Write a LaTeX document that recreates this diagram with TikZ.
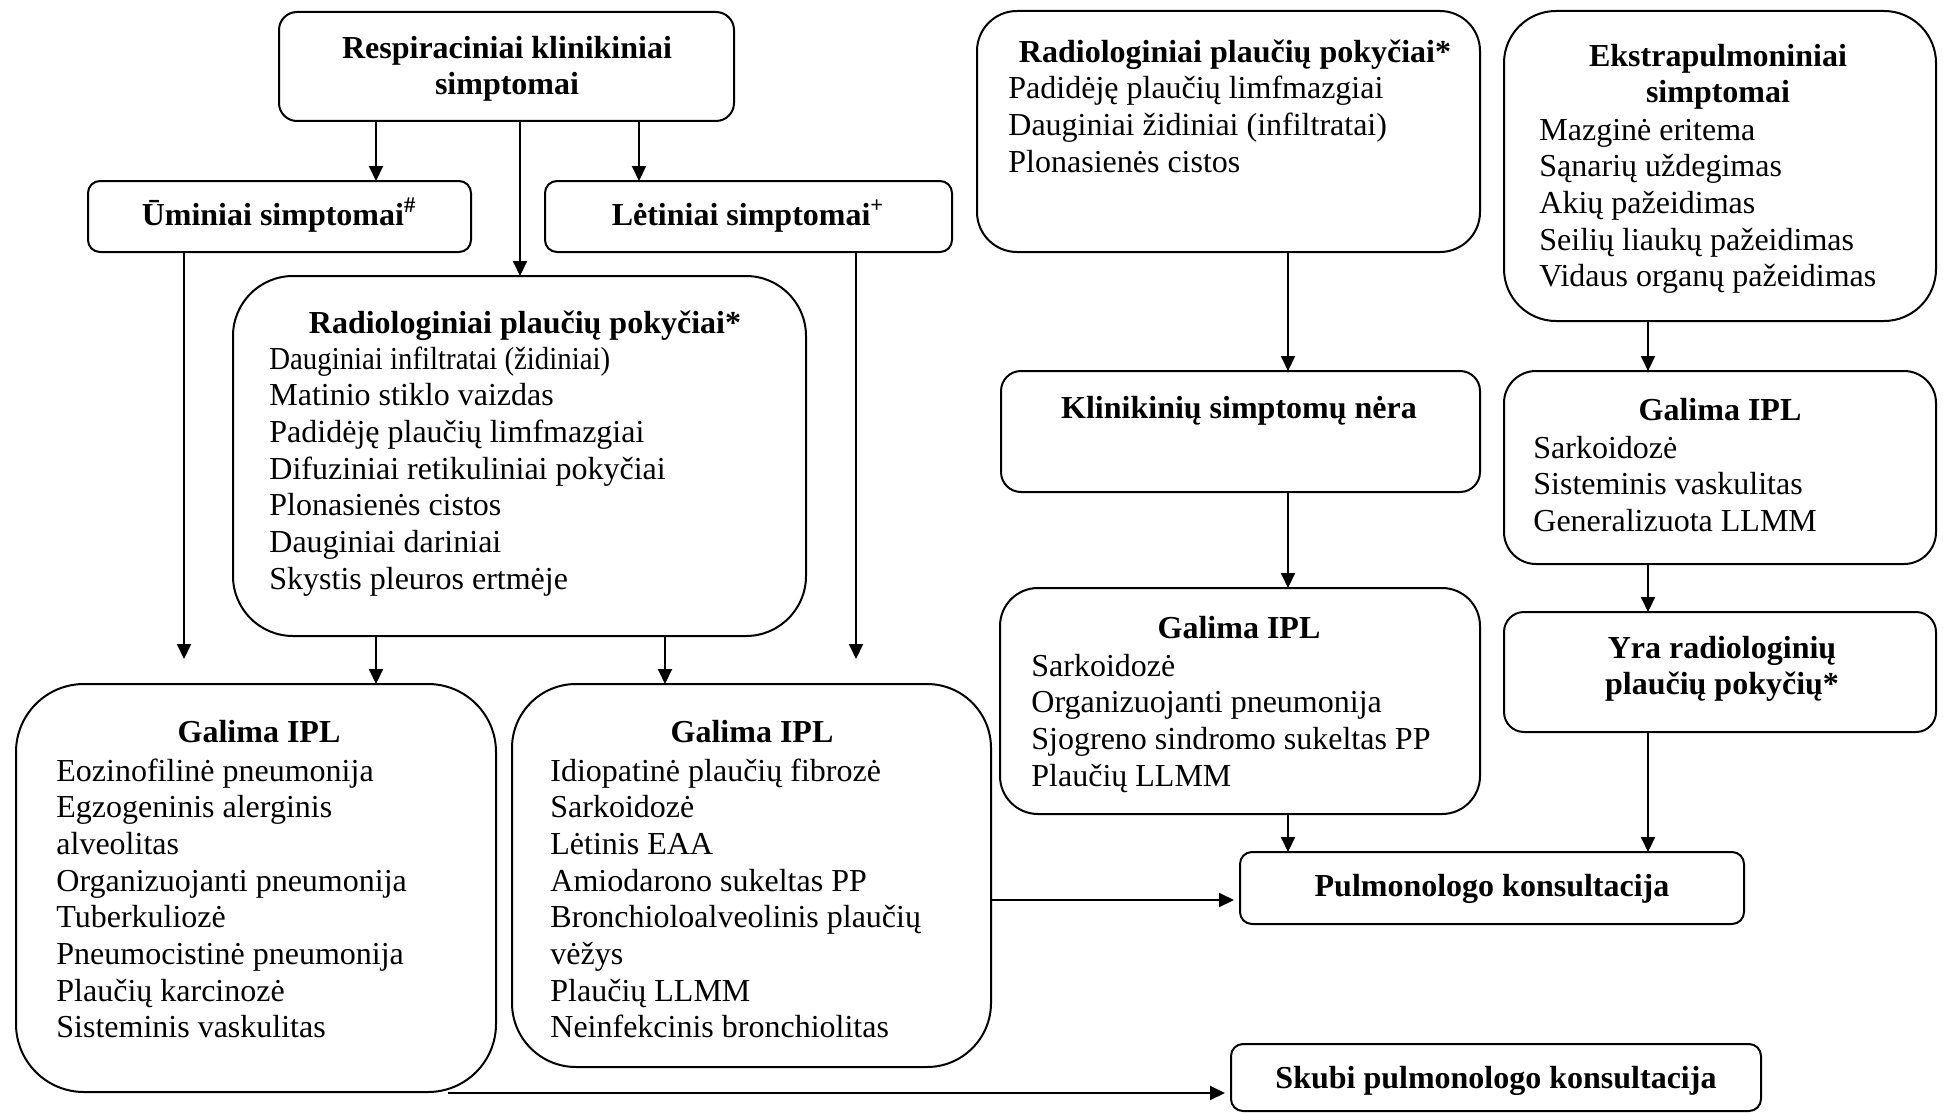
\documentclass[tikz,border=0pt]{standalone}
\usepackage{graphicx}
\usepackage{fontspec}
\setmainfont{Liberation Serif}
\usetikzlibrary{arrows.meta}
\begin{document}
\begin{tikzpicture}[x=0.5pt,y=-0.5pt,
  box/.style={draw, line width=1pt, inner sep=0pt, outer sep=0pt},
  ttl/.style={inner sep=0pt, anchor=base, align=center, font=\fontsize{16pt}{18.35pt}\selectfont\bfseries},
  itm/.style={inner sep=0pt, anchor=base west, align=left, font=\fontsize{16pt}{18.35pt}\selectfont},
  arr/.style={line width=1pt, -{Triangle[length=7.5pt,width=7pt]}}]
\useasboundingbox (0,0) rectangle (1943,1113);

% boxes
\node[box, rounded corners=9pt, minimum width=227.5pt, minimum height=54.5pt] (top) at (506.5,66.5) {};
\node[box, rounded corners=6pt, minimum width=191.5pt, minimum height=35.5pt] (um) at (279.5,216.5) {};
\node[box, rounded corners=6pt, minimum width=203.5pt, minimum height=35.5pt] (let) at (748.5,216.5) {};
\node[box, rounded corners=30pt, minimum width=286.5pt, minimum height=180pt] (rad1) at (519.5,456) {};
\node[box, rounded corners=34pt, minimum width=240pt, minimum height=204pt] (gal1) at (256,888) {};
\node[box, rounded corners=32pt, minimum width=239.5pt, minimum height=191.5pt] (gal2) at (751.5,875.5) {};
\node[box, rounded corners=20pt, minimum width=251.5pt, minimum height=120.5pt] (rad2) at (1228.5,131.5) {};
\node[box, rounded corners=26pt, minimum width=216pt, minimum height=155pt] (eks) at (1720,166) {};
\node[box, rounded corners=10pt, minimum width=239.5pt, minimum height=60.5pt] (kli) at (1240.5,431.5) {};
\node[box, rounded corners=16pt, minimum width=216pt, minimum height=96.5pt] (gal3) at (1720,467.5) {};
\node[box, rounded corners=19pt, minimum width=240pt, minimum height=113pt] (gal4) at (1240,701) {};
\node[box, rounded corners=10pt, minimum width=216pt, minimum height=60pt] (yra) at (1720,672) {};
\node[box, rounded corners=6pt, minimum width=252pt, minimum height=36pt] (pul) at (1492,888) {};
\node[box, rounded corners=6pt, minimum width=265pt, minimum height=33.5pt] (sku) at (1496,1077.5) {};

% texts (base anchor = baseline of the last line)
\node[ttl] (topT) at (507,94.7) {Respiraciniai klinikiniai\\simptomai};
\node[ttl] (umT) at (279,225) {Ūminiai simptomai\textsuperscript{\#}};
\node[ttl] (letT) at (748,225) {Lėtiniai simptomai\textsuperscript{+}};

\node[ttl] (rad1T) at (525,333) {Radiologiniai plaučių pokyčiai*};
\node[itm] (rad1I) at (269,589.2) {\scalebox{0.9}[1]{Dauginiai infiltratai (židiniai)}\\Matinio stiklo vaizdas\\Padidėję plaučių limfmazgiai\\Difuziniai retikuliniai pokyčiai\\Plonasienės cistos\\Dauginiai dariniai\\Skystis pleuros ertmėje};

\node[ttl] (gal1T) at (259,742) {Galima IPL};
\node[itm] (gal1I) at (56,1037.9) {Eozinofilinė pneumonija\\Egzogeninis alerginis\\alveolitas\\Organizuojanti pneumonija\\Tuberkuliozė\\Pneumocistinė pneumonija\\Plaučių karcinozė\\Sisteminis vaskulitas};

\node[ttl] (gal2T) at (752,742) {Galima IPL};
\node[itm] (gal2I) at (550,1037.9) {Idiopatinė plaučių fibrozė\\Sarkoidozė\\Lėtinis EAA\\Amiodarono sukeltas PP\\Bronchioloalveolinis plaučių\\vėžys\\Plaučių LLMM\\Neinfekcinis bronchiolitas};

\node[ttl] (rad2T) at (1235,63) {Radiologiniai plaučių pokyčiai*};
\node[itm] (rad2I) at (1008,172.4) {Padidėję plaučių limfmazgiai\\Dauginiai židiniai (infiltratai)\\Plonasienės cistos};

\node[ttl] (eksT) at (1718,102.7) {Ekstrapulmoniniai\\simptomai};
\node[itm] (eksI) at (1539,286.8) {Mazginė eritema\\Sąnarių uždegimas\\Akių pažeidimas\\Seilių liaukų pažeidimas\\Vidaus organų pažeidimas};

\node[ttl] (kliT) at (1239,418) {Klinikinių simptomų nėra};

\node[ttl] (gal3T) at (1720,420) {Galima IPL};
\node[itm] (gal3I) at (1533,531.4) {Sarkoidozė\\Sisteminis vaskulitas\\Generalizuota LLMM};

\node[ttl] (gal4T) at (1239,638) {Galima IPL};
\node[itm] (gal4I) at (1031,786.1) {Sarkoidozė\\Organizuojanti pneumonija\\Sjogreno sindromo sukeltas PP\\Plaučių LLMM};

\node[ttl] (yraT) at (1722,694.7) {Yra radiologinių\\plaučių pokyčių*};
\node[ttl] (pulT) at (1492,896) {Pulmonologo konsultacija};
\node[ttl] (skuT) at (1496,1088) {Skubi pulmonologo konsultacija};

% helper coordinates
\coordinate (cx184) at (184,0);
\coordinate (cx376) at (376,0);
\coordinate (cx520) at (520,0);
\coordinate (cx639) at (639,0);
\coordinate (cx665) at (665,0);
\coordinate (cx856) at (856,0);
\coordinate (cx1288) at (1288,0);
\coordinate (cx1648) at (1648,0);
\coordinate (cy900) at (0,900);
\coordinate (e1) at (184,659);
\coordinate (e2) at (856,659);
\coordinate (g1out) at (448,1093);

% connectors
\draw[arr] (top.south -| cx376) -- (um.north -| cx376);
\draw[arr] (top.south -| cx639) -- (let.north -| cx639);
\draw[arr] (top.south -| cx520) -- (rad1.north -| cx520);
\draw[arr] (um.south -| cx184) -- (e1);
\draw[arr] (let.south -| cx856) -- (e2);
\draw[arr] (rad1.south -| cx376) -- (gal1.north -| cx376);
\draw[arr] (rad1.south -| cx665) -- (gal2.north -| cx665);
\draw[arr, shorten >=3pt] (gal2.east |- cy900) -- (pul.west |- cy900);
\draw[arr, shorten >=3pt] (g1out) -- (sku.west |- g1out);
\draw[arr] (rad2.south -| cx1288) -- (kli.north -| cx1288);
\draw[arr] (eks.south -| cx1648) -- (gal3.north -| cx1648);
\draw[arr] (kli.south -| cx1288) -- (gal4.north -| cx1288);
\draw[arr] (gal3.south -| cx1648) -- (yra.north -| cx1648);
\draw[arr] (gal4.south -| cx1288) -- (pul.north -| cx1288);
\draw[arr] (yra.south -| cx1648) -- (pul.north -| cx1648);
\end{tikzpicture}
\end{document}
